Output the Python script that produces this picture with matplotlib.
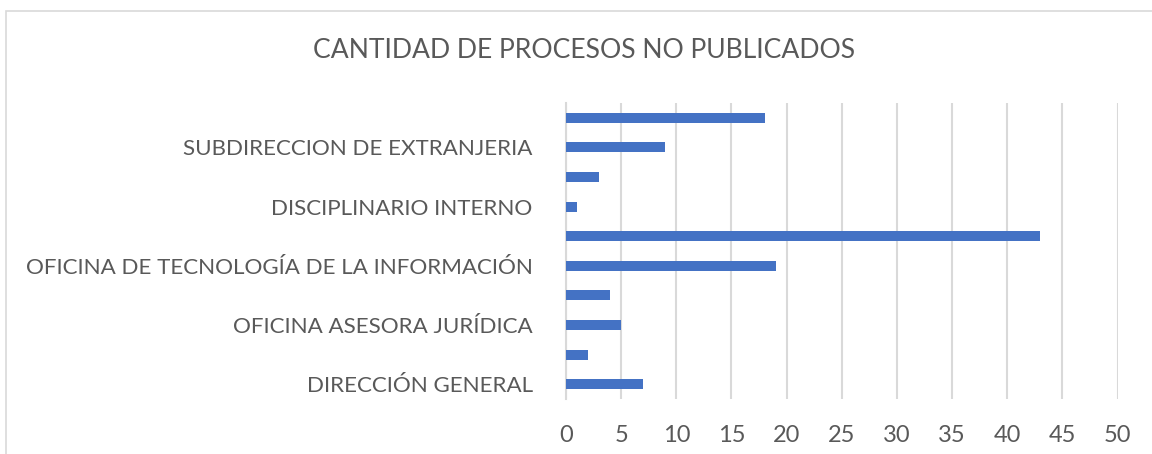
import matplotlib
matplotlib.use("Agg")
import matplotlib.pyplot as plt
from matplotlib.patches import Rectangle

# Data (bottom to top)
categories = ["DIRECCIÓN GENERAL", "", "OFICINA ASESORA JURÍDICA", "",
              "OFICINA DE TECNOLOGÍA DE LA INFORMACIÓN", "",
              "DISCIPLINARIO INTERNO", "", "SUBDIRECCION DE EXTRANJERIA", ""]
values = [7, 2, 5, 4, 19, 43, 1, 3, 9, 18]
xticks = [0, 5, 10, 15, 20, 25, 30, 35, 40, 45, 50]
title = "CANTIDAD DE PROCESOS NO PUBLICADOS"

BAR = "#4472C4"
TXT = "#595959"
GRID = "#D9D9D9"
FONT = "Lato"

W, H = 1152, 454
fig = plt.figure(figsize=(W / 100, H / 100), dpi=100)
ax = fig.add_axes([566 / W, 1 - 399 / H, (1117.5 - 566) / W, (399 - 103) / H])

y = list(range(len(values)))
ax.barh(y, values, height=0.34, color=BAR, zorder=3)
ax.set_xlim(0, 50)
ax.set_ylim(-0.5, len(values) - 0.5)
ax.set_xticks(xticks)
ax.set_xticklabels([str(t) for t in xticks], fontsize=17, color=TXT, family=FONT)
ax.set_yticks(y)
ax.set_yticklabels(categories, fontsize=16.1, color=TXT, family=FONT)
ax.tick_params(axis="x", length=0, pad=19)
ax.tick_params(axis="y", length=0, pad=24)
ax.grid(axis="x", color=GRID, linewidth=1.5, zorder=0)
for s in ["top", "right", "bottom"]:
    ax.spines[s].set_visible(False)
ax.spines["left"].set_color(GRID)
ax.spines["left"].set_linewidth(1.5)

fig.text(584.5 / W, 1 - 51 / H, title, ha="center", va="center",
         fontsize=19.1, color=TXT, family=FONT)

fig.patches.append(Rectangle((6 / W, -0.1), 1.2, 1 - 10.5 / H + 0.1,
                             transform=fig.transFigure, fill=False,
                             edgecolor=GRID, linewidth=1.2))

fig.savefig("out.png", dpi=100, facecolor="white")
